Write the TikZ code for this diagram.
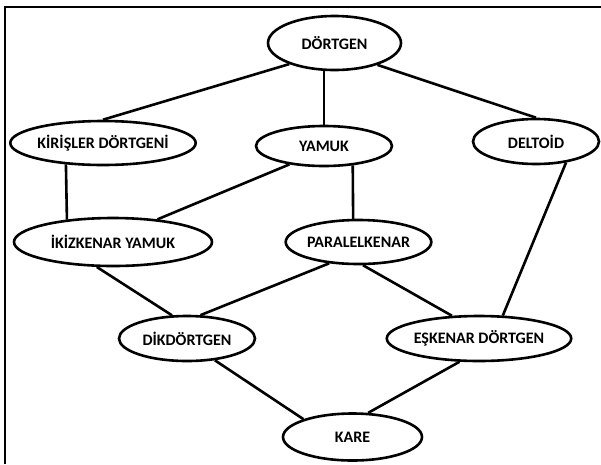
\documentclass[tikz,border=0pt]{standalone}
\usepackage{fontspec}
\setmainfont{Carlito}
\usetikzlibrary{shapes.geometric}
\begin{document}
\begin{tikzpicture}[x=1pt,y=-1pt,
  el/.style={ellipse, draw=black, line width=2.6pt, inner sep=0pt,
    font=\fontsize{16}{18}\selectfont\bfseries},
  conn/.style={line width=2.6pt, draw=black},
  frame/.style={line width=1.8pt, draw=black}]
\useasboundingbox (0,0) rectangle (601,464);
\draw[frame] (5,464) -- (5,7) -- (601,7);

\node[el, minimum width=133pt, minimum height=54pt] (dortgen) at (334.5,43) {DÖRTGEN};
\node[el, minimum width=178pt, minimum height=44pt] (kir) at (103,143) {KİRİŞLER DÖRTGENİ};
\node[el, minimum width=136pt, minimum height=40pt] (yamuk) at (324,146) {YAMUK};
\node[el, minimum width=126pt, minimum height=45pt] (deltoid) at (536,141.5) {DELTOİD};
\node[el, minimum width=198pt, minimum height=48pt] (ikiz) at (113,242) {İKİZKENAR YAMUK};
\node[el, minimum width=141pt, minimum height=44pt] (paral) at (358.5,242) {PARALELKENAR};
\node[el, minimum width=136pt, minimum height=45pt] (dik) at (187,338.5) {DİKDÖRTGEN};
\node[el, minimum width=182pt, minimum height=45pt] (esk) at (479,338.5) {EŞKENAR DÖRTGEN};
\node[el, minimum width=139pt, minimum height=47pt] (kare) at (352.5,437) {KARE};

\draw[conn] (dortgen.205) -- (kir.north);
\draw[conn] (yamuk.north) -- (yamuk.north |- dortgen.south);
\draw[conn] (dortgen.333) -- (deltoid.north);
\draw[conn] (kir.210.4) -- (ikiz.154.2);
\draw[conn] (yamuk.208.3) -- (ikiz.27);
\draw[conn] (yamuk.326.6) -- (paral.103.5);
\draw[conn] (deltoid.325.3) -- (esk.44.7);
\draw[conn] (ikiz.237) -- (dik.123.2);
\draw[conn] (paral.216.5) -- (dik.60.6);
\draw[conn] (paral.281.1) -- (esk.140.2);
\draw[conn] (dik.322.5) -- (kare.160.6);
\draw[conn] (esk.230.4) -- (kare.57);
\end{tikzpicture}
\end{document}
